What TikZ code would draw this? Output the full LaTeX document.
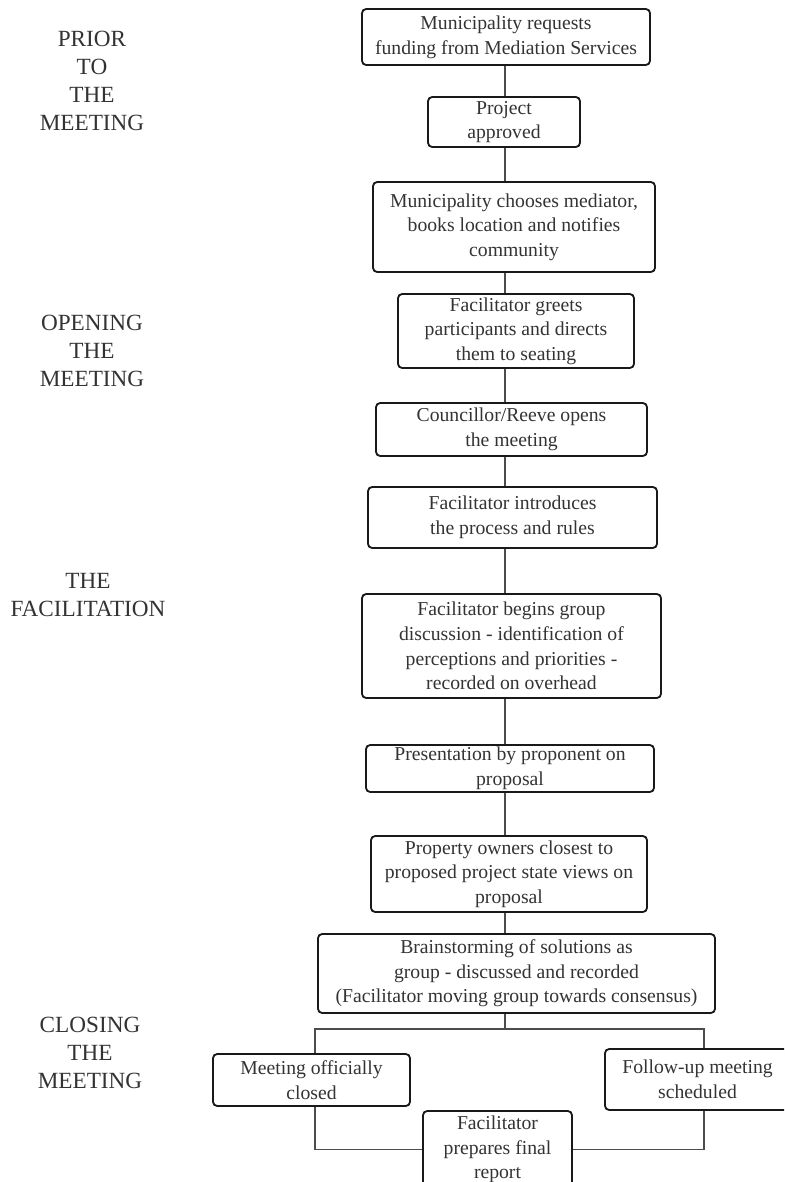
\documentclass[tikz,border=0pt]{standalone}
\usepackage{fontspec}
\setmainfont{Liberation Serif}
\usepackage{tikz}
\tikzset{
	stage/.style={
		draw=black!90,
		rounded corners=3pt,
		line width=1.3pt,
		align=center,
		inner sep=1pt,
		text=black!80,
		font=\fontsize{14}{17.5}\selectfont
	},
	phase/.style={
		align=center,
		text=black!80,
		font=\fontsize{16.5}{20}\selectfont
	},
	link/.style={
		line width=1.3pt,
		draw=black!70
	}
}

\begin{document}
\begin{tikzpicture}[x=0.025cm, y=-0.025cm]
	\useasboundingbox (0,0) rectangle (784,1182);
	\clip (0,0) rectangle (784,1182);
	
	% Phase labels (left column)
	\node [phase] (prior) at (92,81) {PRIOR\\TO\\THE\\MEETING};
	\node [phase] (opening) at (92,351) {OPENING\\THE\\MEETING};
	\node [phase] (facil) at (88,595) {THE\\FACILITATION};
	\node [phase] (closing) at (90,1053) {CLOSING\\THE\\MEETING};
	
	% Prior to the meeting
	\node [stage, minimum width=7.2cm, minimum height=1.4cm] (request) at (506,37) {Municipality requests\\funding from Mediation Services};
	\node [stage, minimum width=3.8cm, minimum height=1.25cm] (approve) at (504,122) {Project\\approved};
	\node [stage, minimum width=7.05cm, minimum height=2.25cm] (choose) at (514,227) {Municipality chooses mediator,\\books location and notifies\\community};
	
	% Opening the meeting
	\node [stage, minimum width=5.9cm, minimum height=1.85cm] (greet) at (516,331) {Facilitator greets\\participants and directs\\them to seating};
	\node [stage, minimum width=6.775cm, minimum height=1.325cm] (open) at (511.5,429.5) {Councillor/Reeve opens\\the meeting};
	\node [stage, minimum width=7.225cm, minimum height=1.525cm] (intro) at (512.5,517.5) {Facilitator introduces\\the process and rules};
	
	% The facilitation
	\node [stage, minimum width=7.475cm, minimum height=2.6cm] (discuss) at (511.5,646) {Facilitator begins group\\discussion - identification of\\perceptions and priorities -\\recorded on overhead};
	\node [stage, minimum width=7.2cm, minimum height=1.175cm] (present) at (510,768.5) {Presentation by proponent on\\proposal};
	\node [stage, minimum width=6.9cm, minimum height=1.9cm] (owners) at (509,874) {Property owners closest to\\proposed project state views on\\proposal};
	\node [stage, minimum width=9.925cm, minimum height=1.975cm] (brainstorm) at (516.5,973.5) {Brainstorming of solutions as\\group - discussed and recorded\\(Facilitator moving group towards consensus)};
	
	% Closing the meeting
	\node [stage, minimum width=4.925cm, minimum height=1.3cm] (closed) at (311.5,1080) {Meeting officially\\closed};
	\node [stage, minimum width=4.625cm, minimum height=1.525cm] (followup) at (697.5,1079.5) {Follow-up meeting\\scheduled};
	\node [stage, minimum width=3.725cm, minimum height=1.925cm] (report) at (497.5,1149.5) {Facilitator\\prepares final\\report};
	
	% Connectors
	\coordinate (spine) at (505,0);
	\coordinate (lft) at (315,1029);
	\coordinate (rgt) at (704,1029);
	\foreach \a/\b in {request/approve, approve/choose, choose/greet, greet/open, open/intro, intro/discuss, discuss/present, present/owners, owners/brainstorm}
		\draw [link] (\a.south -| spine) -- (\b.north -| spine);
	\draw [link] (brainstorm.south -| spine) -- (spine |- lft);
	\draw [link] (lft |- closed.north) -- (lft) -- (rgt) -- (rgt |- followup.north);
	\draw [link] (lft |- closed.south) |- (report.west);
	\draw [link] (rgt |- followup.south) |- (report.east);
\end{tikzpicture}
\end{document}
